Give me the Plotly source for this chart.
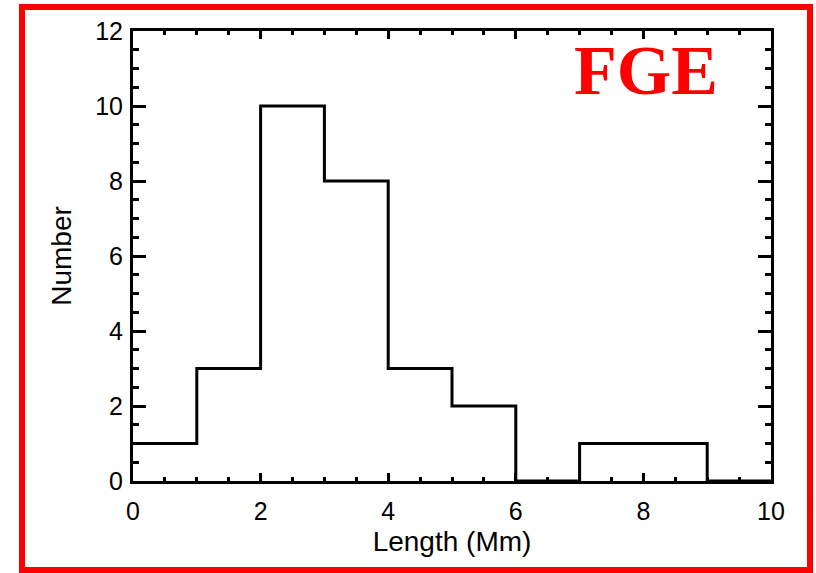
import plotly.graph_objects as go

bin_edges = [0, 1, 2, 3, 4, 5, 6, 7, 8, 9, 10]
counts = [1, 3, 10, 8, 3, 2, 0, 1, 1, 0]
x_ticks = [0, 2, 4, 6, 8, 10]
y_ticks = [0, 2, 4, 6, 8, 10, 12]
x_title = "Length (Mm)"
y_title = "Number"
label = "FGE"

W, H = 816, 573
L, R, T, B = 133, 45, 31, 92
pw, ph = W - L - R, H - T - B

fig = go.Figure()
fig.add_trace(go.Scatter(
    x=bin_edges, y=counts + [counts[-1]],
    mode="lines", line=dict(shape="hv", color="black", width=3),
    hoverinfo="skip", showlegend=False, cliponaxis=True))

fam = "Liberation Sans, Arial, sans-serif"
font = dict(family=fam, size=25, color="black")
tfont = dict(family=fam, size=28, color="black")

axis_common = dict(
    showgrid=False, zeroline=False, showline=True, linecolor="black", linewidth=3,
    mirror="allticks", ticks="inside", tickcolor="black", tickwidth=2.5,
    tickfont=font,
)

fig.update_xaxes(range=[0, 10], tickvals=x_ticks, ticklen=8,
                 minor=dict(dtick=0.5, ticks="inside", ticklen=4, tickwidth=2.5, tickcolor="black"),
                 ticklabelstandoff=6,
                 title=dict(text=x_title, font=tfont, standoff=8),
                 **axis_common)
fig.update_yaxes(range=[0, 12], tickvals=y_ticks, ticklen=13,
                 minor=dict(dtick=0.5, ticks="inside", ticklen=6, tickwidth=2.5, tickcolor="black"),
                 ticklabelstandoff=2,
                 title=dict(text=y_title, font=tfont, standoff=16),
                 **axis_common)

def px(xp):
    return (xp - L) / pw

def py(yp):
    return 1 - (yp - T) / ph

fig.add_shape(type="rect", xref="paper", yref="paper",
              x0=px(22), x1=px(810), y0=py(7), y1=py(570),
              line=dict(color="red", width=6), fillcolor="rgba(0,0,0,0)")

fig.add_annotation(text="<b>" + label + "</b>", xref="paper", yref="paper",
                   x=px(646), y=py(70), xanchor="center", yanchor="middle", showarrow=False,
                   font=dict(family="Liberation Serif, Times New Roman, serif", size=70, color="red"))

fig.update_layout(width=W, height=H, margin=dict(l=L, r=R, t=T, b=B),
                  paper_bgcolor="white", plot_bgcolor="white")

fig.write_html("out.html", config={"displayModeBar": False},
               post_script="document.body.style.margin='0';document.body.style.overflow='hidden';")
